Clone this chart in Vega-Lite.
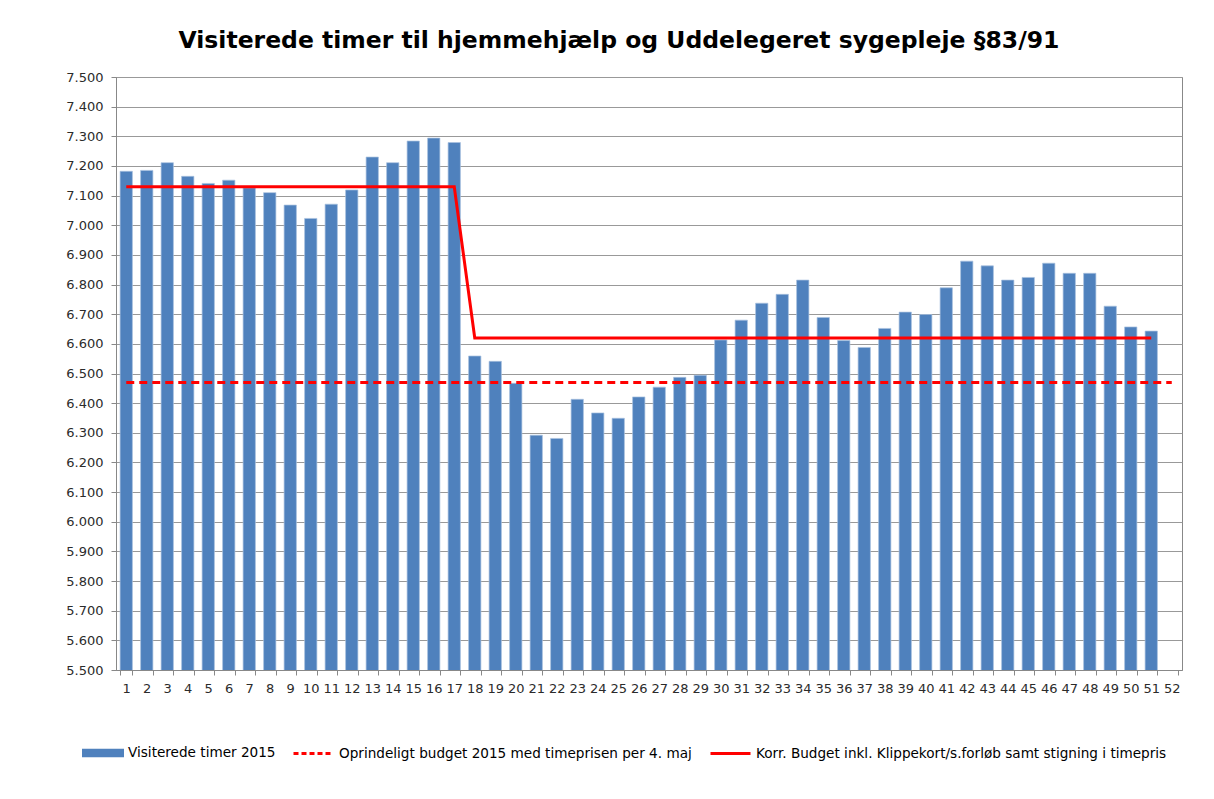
{
  "$schema": "https://vega.github.io/schema/vega-lite/v6.json",
  "width": 1066,
  "height": 593,
  "autosize": {"type": "none"},
  "padding": {"left": 116, "top": 77, "right": 32, "bottom": 129},
  "background": "white",
  "title": {
    "text": "Visiterede timer til hjemmehjælp og Uddelegeret sygepleje §83/91",
    "font": "DejaVu Sans",
    "fontSize": 23.5,
    "fontWeight": "bold",
    "color": "#000000",
    "anchor": "middle",
    "dx": -30,
    "offset": 19
  },
  "config": {
    "view": {"stroke": "#888888", "strokeWidth": 1},
    "axis": {
      "labelFont": "DejaVu Sans",
      "labelFontSize": 13,
      "labelColor": "#2b2b2b",
      "domainColor": "#888888",
      "tickColor": "#888888",
      "gridColor": "#999999",
      "tickSize": 5
    },
    "legend": {
      "labelFont": "DejaVu Sans",
      "labelFontSize": 13.6,
      "labelColor": "#000000",
      "labelLimit": 0,
      "labelOffset": 4
    }
  },
  "resolve": {"scale": {"color": "independent"}, "legend": {"color": "independent"}},
  "data": {
    "values": [
      {"week": 1, "timer": 7182, "budget": 6470, "korr": 7130},
      {"week": 2, "timer": 7185, "budget": 6470, "korr": 7130},
      {"week": 3, "timer": 7211, "budget": 6470, "korr": 7130},
      {"week": 4, "timer": 7165, "budget": 6470, "korr": 7130},
      {"week": 5, "timer": 7141, "budget": 6470, "korr": 7130},
      {"week": 6, "timer": 7152, "budget": 6470, "korr": 7130},
      {"week": 7, "timer": 7126, "budget": 6470, "korr": 7130},
      {"week": 8, "timer": 7110, "budget": 6470, "korr": 7130},
      {"week": 9, "timer": 7068, "budget": 6470, "korr": 7130},
      {"week": 10, "timer": 7023, "budget": 6470, "korr": 7130},
      {"week": 11, "timer": 7071, "budget": 6470, "korr": 7130},
      {"week": 12, "timer": 7119, "budget": 6470, "korr": 7130},
      {"week": 13, "timer": 7230, "budget": 6470, "korr": 7130},
      {"week": 14, "timer": 7211, "budget": 6470, "korr": 7130},
      {"week": 15, "timer": 7284, "budget": 6470, "korr": 7130},
      {"week": 16, "timer": 7294, "budget": 6470, "korr": 7130},
      {"week": 17, "timer": 7279, "budget": 6470, "korr": 7130},
      {"week": 18, "timer": 6559, "budget": 6470, "korr": 6620},
      {"week": 19, "timer": 6541, "budget": 6470, "korr": 6620},
      {"week": 20, "timer": 6467, "budget": 6470, "korr": 6620},
      {"week": 21, "timer": 6292, "budget": 6470, "korr": 6620},
      {"week": 22, "timer": 6281, "budget": 6470, "korr": 6620},
      {"week": 23, "timer": 6413, "budget": 6470, "korr": 6620},
      {"week": 24, "timer": 6367, "budget": 6470, "korr": 6620},
      {"week": 25, "timer": 6349, "budget": 6470, "korr": 6620},
      {"week": 26, "timer": 6421, "budget": 6470, "korr": 6620},
      {"week": 27, "timer": 6454, "budget": 6470, "korr": 6620},
      {"week": 28, "timer": 6487, "budget": 6470, "korr": 6620},
      {"week": 29, "timer": 6494, "budget": 6470, "korr": 6620},
      {"week": 30, "timer": 6613, "budget": 6470, "korr": 6620},
      {"week": 31, "timer": 6680, "budget": 6470, "korr": 6620},
      {"week": 32, "timer": 6737, "budget": 6470, "korr": 6620},
      {"week": 33, "timer": 6767, "budget": 6470, "korr": 6620},
      {"week": 34, "timer": 6815, "budget": 6470, "korr": 6620},
      {"week": 35, "timer": 6689, "budget": 6470, "korr": 6620},
      {"week": 36, "timer": 6611, "budget": 6470, "korr": 6620},
      {"week": 37, "timer": 6588, "budget": 6470, "korr": 6620},
      {"week": 38, "timer": 6652, "budget": 6470, "korr": 6620},
      {"week": 39, "timer": 6707, "budget": 6470, "korr": 6620},
      {"week": 40, "timer": 6699, "budget": 6470, "korr": 6620},
      {"week": 41, "timer": 6789, "budget": 6470, "korr": 6620},
      {"week": 42, "timer": 6879, "budget": 6470, "korr": 6620},
      {"week": 43, "timer": 6863, "budget": 6470, "korr": 6620},
      {"week": 44, "timer": 6815, "budget": 6470, "korr": 6620},
      {"week": 45, "timer": 6824, "budget": 6470, "korr": 6620},
      {"week": 46, "timer": 6872, "budget": 6470, "korr": 6620},
      {"week": 47, "timer": 6838, "budget": 6470, "korr": 6620},
      {"week": 48, "timer": 6838, "budget": 6470, "korr": 6620},
      {"week": 49, "timer": 6727, "budget": 6470, "korr": 6620},
      {"week": 50, "timer": 6657, "budget": 6470, "korr": 6620},
      {"week": 51, "timer": 6643, "budget": 6470, "korr": 6620},
      {"week": 52, "timer": null, "budget": 6470, "korr": null}
    ]
  },
  "encoding": {
    "x": {
      "field": "week",
      "type": "ordinal",
      "scale": {"paddingInner": 0.4, "paddingOuter": 0.2},
      "axis": {
        "title": null,
        "labelAngle": 0,
        "tickBand": "extent",
        "grid": false,
        "labelPadding": 7
      }
    }
  },
  "layer": [
    {
      "mark": {"type": "bar", "clip": true, "stroke": "#A9C1E0", "strokeWidth": 0.7},
      "encoding": {
        "y": {
          "field": "timer",
          "type": "quantitative",
          "scale": {"domain": [5500, 7500], "zero": false, "nice": false},
          "axis": {
            "title": null,
            "grid": true,
            "labelOverlap": false,
            "values": [5500, 5600, 5700, 5800, 5900, 6000, 6100, 6200, 6300, 6400, 6500, 6600, 6700, 6800, 6900, 7000, 7100, 7200, 7300, 7400, 7500],
            "labelExpr": "replace(format(datum.value, ',d'), ',', '.')",
            "labelPadding": 8
          }
        },
        "color": {
          "datum": "Visiterede timer 2015",
          "type": "nominal",
          "scale": {"range": ["#4F81BD"]},
          "legend": {
            "title": null,
            "orient": "none",
            "legendX": -34,
            "legendY": 655,
            "symbolType": "M-1,-0.2H1V0.2H-1Z",
            "symbolSize": 1764,
            "symbolStrokeWidth": 0,
            "symbolOpacity": 1
          }
        }
      }
    },
    {
      "mark": {"type": "line", "strokeWidth": 3, "strokeDash": [8, 5]},
      "encoding": {
        "y": {
          "field": "budget",
          "type": "quantitative",
          "axis": {
            "title": null,
            "grid": true,
            "labelOverlap": false,
            "values": [5500, 5600, 5700, 5800, 5900, 6000, 6100, 6200, 6300, 6400, 6500, 6600, 6700, 6800, 6900, 7000, 7100, 7200, 7300, 7400, 7500],
            "labelExpr": "replace(format(datum.value, ',d'), ',', '.')",
            "labelPadding": 8
          }
        },
        "color": {
          "datum": "Oprindeligt budget 2015 med timeprisen per 4. maj",
          "type": "nominal",
          "scale": {"range": ["#FF0000"]},
          "legend": {
            "title": null,
            "orient": "none",
            "legendX": 176,
            "legendY": 655,
            "symbolType": "stroke",
            "symbolSize": 1600,
            "symbolStrokeWidth": 3,
            "symbolDash": [5, 3],
            "symbolOpacity": 1
          }
        }
      }
    },
    {
      "mark": {"type": "line", "strokeWidth": 3},
      "encoding": {
        "y": {
          "field": "korr",
          "type": "quantitative",
          "axis": {
            "title": null,
            "grid": true,
            "labelOverlap": false,
            "values": [5500, 5600, 5700, 5800, 5900, 6000, 6100, 6200, 6300, 6400, 6500, 6600, 6700, 6800, 6900, 7000, 7100, 7200, 7300, 7400, 7500],
            "labelExpr": "replace(format(datum.value, ',d'), ',', '.')",
            "labelPadding": 8
          }
        },
        "color": {
          "datum": "Korr. Budget inkl. Klippekort/s.forløb samt stigning i timepris",
          "type": "nominal",
          "scale": {"range": ["#FF0000"]},
          "legend": {
            "title": null,
            "orient": "none",
            "legendX": 593,
            "legendY": 655,
            "symbolType": "stroke",
            "symbolSize": 1600,
            "symbolStrokeWidth": 3,
            "symbolOpacity": 1
          }
        }
      }
    }
  ]
}
